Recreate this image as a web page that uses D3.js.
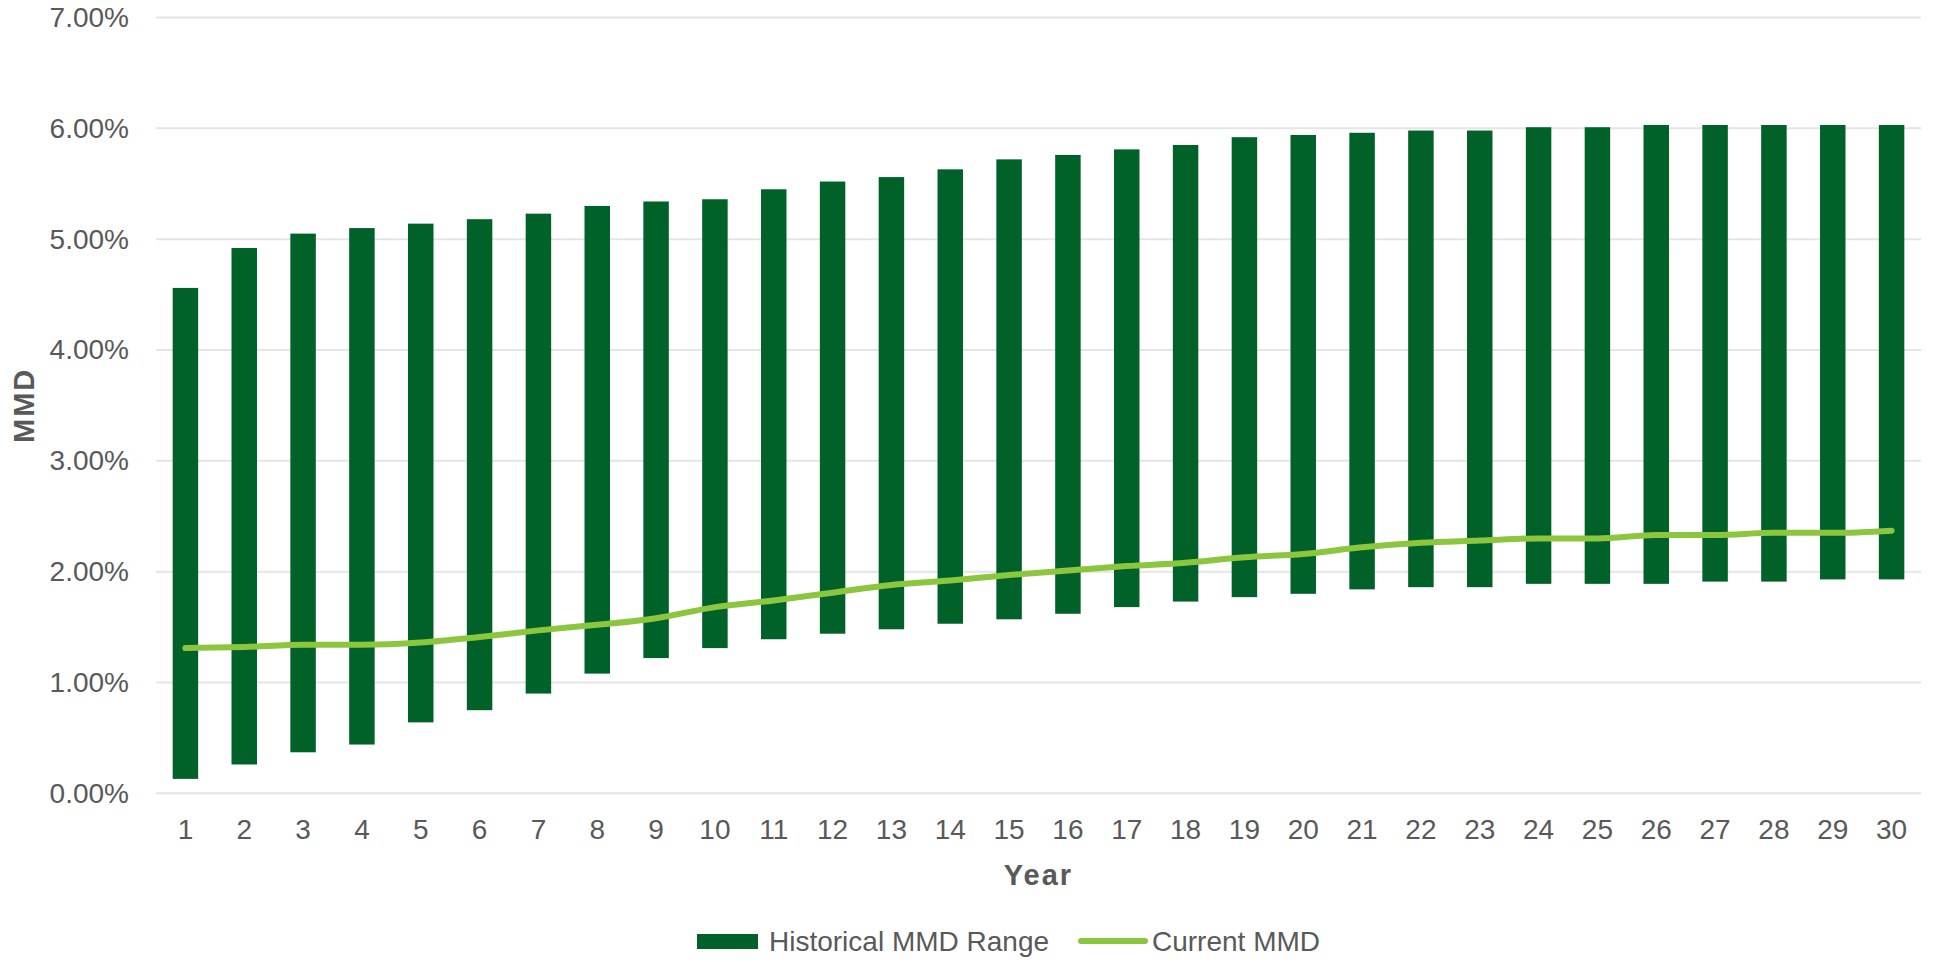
<!DOCTYPE html>
<html>
<head>
<meta charset="utf-8">
<script src="https://cdn.jsdelivr.net/npm/d3@7/dist/d3.min.js"></script>
<style>
  html, body { margin: 0; padding: 0; background: #ffffff; }
  svg { display: block; }
  text { font-family: "Liberation Sans", Arial, sans-serif; fill: #595959; }
</style>
</head>
<body>
<svg id="chart" width="1934" height="962"></svg>
<script>
// Maturity years on the x axis
const years = d3.range(1, 31).map(String);

// Historical MMD range per maturity (percent): low and high ends
const rangeLow = [0.13, 0.26, 0.37, 0.44, 0.64, 0.75, 0.90, 1.08, 1.22, 1.31,
                  1.39, 1.44, 1.48, 1.53, 1.57, 1.62, 1.68, 1.73, 1.77, 1.80,
                  1.84, 1.86, 1.86, 1.89, 1.89, 1.89, 1.91, 1.91, 1.93, 1.93];
const rangeHigh = [4.56, 4.92, 5.05, 5.10, 5.14, 5.18, 5.23, 5.30, 5.34, 5.36,
                   5.45, 5.52, 5.56, 5.63, 5.72, 5.76, 5.81, 5.85, 5.92, 5.94,
                   5.96, 5.98, 5.98, 6.01, 6.01, 6.03, 6.03, 6.03, 6.03, 6.03];

// Current MMD curve (percent)
const currentMMD = [1.31, 1.32, 1.34, 1.34, 1.36, 1.41, 1.47, 1.52, 1.58, 1.68,
                    1.74, 1.81, 1.88, 1.92, 1.97, 2.01, 2.05, 2.08, 2.13, 2.16,
                    2.22, 2.26, 2.28, 2.30, 2.30, 2.33, 2.33, 2.35, 2.35, 2.37];

// Y axis ticks (percent)
const yTicks = [0, 1, 2, 3, 4, 5, 6, 7];

const seriesNames = ["Historical MMD Range", "Current MMD"];

const barColor = "#006129";
const lineColor = "#8cc63f";
const gridColor = "#e5e5e5";

const svg = d3.select("#chart");
const plot = { left: 156, right: 1921, top: 17.5, bottom: 793.3 };

const x = d3.scaleBand()
  .domain(years)
  .range([plot.left, plot.right])
  .paddingInner(0.567)
  .paddingOuter(0.2835);

const y = d3.scaleLinear()
  .domain([0, 7])
  .range([plot.bottom, plot.top]);

// Horizontal gridlines
svg.append("g")
  .selectAll("line")
  .data(yTicks)
  .join("line")
  .attr("x1", plot.left)
  .attr("x2", plot.right)
  .attr("y1", d => y(d))
  .attr("y2", d => y(d))
  .attr("stroke", gridColor)
  .attr("stroke-width", 2);

// Y axis tick labels
const yAxis = d3.axisLeft(y)
  .tickValues(yTicks)
  .tickFormat(d => d.toFixed(2) + "%")
  .tickSize(0)
  .tickPadding(0);

const yG = svg.append("g")
  .attr("transform", `translate(129,0)`)
  .call(yAxis);
yG.select(".domain").remove();
yG.selectAll("text")
  .attr("font-size", 28)
  .attr("font-family", "Liberation Sans, Arial, sans-serif")
  .attr("fill", "#595959");

// X axis tick labels
const xAxis = d3.axisBottom(x).tickSize(0).tickPadding(0);
const xG = svg.append("g")
  .attr("transform", `translate(0,${plot.bottom + 26})`)
  .call(xAxis);
xG.select(".domain").remove();
xG.selectAll("text")
  .attr("font-size", 28)
  .attr("font-family", "Liberation Sans, Arial, sans-serif")
  .attr("fill", "#595959");

// Range bars from low to high
svg.append("g")
  .selectAll("rect")
  .data(years)
  .join("rect")
  .attr("x", (d) => x(d))
  .attr("width", x.bandwidth())
  .attr("y", (d, i) => y(rangeHigh[i]))
  .attr("height", (d, i) => y(rangeLow[i]) - y(rangeHigh[i]))
  .attr("fill", barColor);

// Current MMD line
const line = d3.line()
  .x((d, i) => x(years[i]) + x.bandwidth() / 2)
  .y(d => y(d))
  .curve(d3.curveMonotoneX);

svg.append("path")
  .datum(currentMMD)
  .attr("d", line)
  .attr("fill", "none")
  .attr("stroke", lineColor)
  .attr("stroke-width", 6)
  .attr("stroke-linecap", "round")
  .attr("stroke-linejoin", "round");

// Axis titles
svg.append("text")
  .attr("x", (plot.left + plot.right) / 2)
  .attr("y", 885)
  .attr("text-anchor", "middle")
  .attr("font-size", 29)
  .attr("font-weight", "bold")
  .attr("letter-spacing", 2)
  .text("Year");

svg.append("text")
  .attr("transform", `translate(34,${(plot.top + plot.bottom) / 2}) rotate(-90)`)
  .attr("text-anchor", "middle")
  .attr("font-size", 29)
  .attr("font-weight", "bold")
  .attr("letter-spacing", 2)
  .text("MMD");

// Legend
const legend = svg.append("g");
legend.append("rect")
  .attr("x", 697).attr("y", 934)
  .attr("width", 61).attr("height", 15)
  .attr("fill", barColor);
legend.append("text")
  .attr("x", 769).attr("y", 951)
  .attr("font-size", 28)
  .text(seriesNames[0]);
legend.append("line")
  .attr("x1", 1081).attr("x2", 1145)
  .attr("y1", 941).attr("y2", 941)
  .attr("stroke", lineColor)
  .attr("stroke-width", 6)
  .attr("stroke-linecap", "round");
legend.append("text")
  .attr("x", 1152).attr("y", 951)
  .attr("font-size", 28)
  .text(seriesNames[1]);
</script>
</body>
</html>
